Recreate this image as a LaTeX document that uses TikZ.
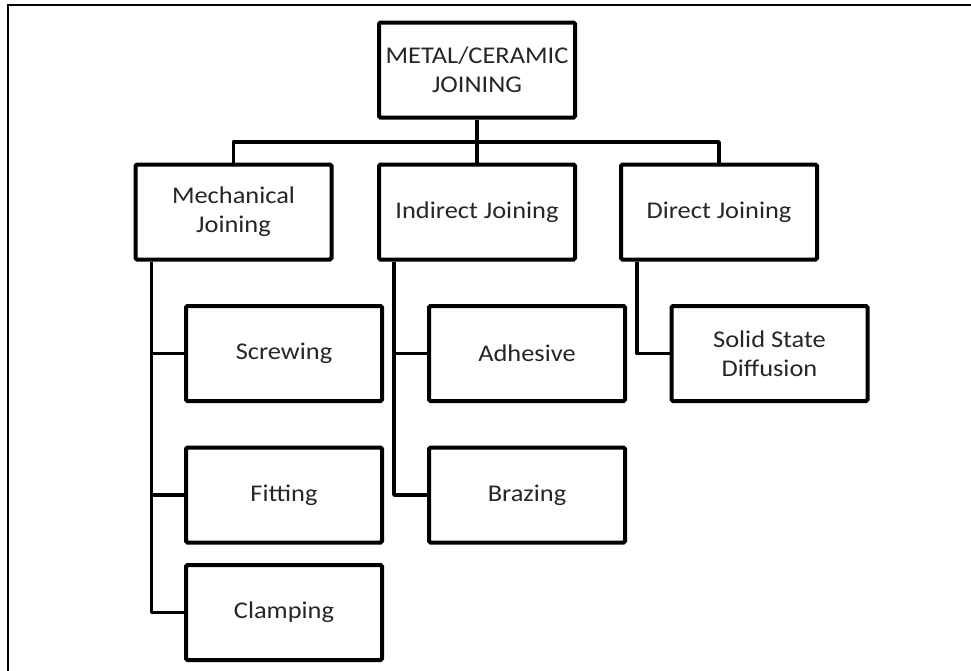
\documentclass[tikz,border=0pt]{standalone}
\usepackage{fontspec}
\setmainfont{Carlito}[FakeStretch=1.1]
\usetikzlibrary{calc}
\begin{document}
\begin{tikzpicture}[x=1pt,y=-1pt,
  box/.style={draw=black, line width=4pt, rounded corners=1.5pt, fill=white,
    minimum width=196pt, minimum height=95pt, inner sep=0pt, align=center,
    text=black!85, font=\fontsize{24}{29}\selectfont},
  conn/.style={draw=black, line width=3.8pt, line join=round},
  frame/.style={draw=black, line width=2pt}]
\useasboundingbox (0,0) rectangle (971,670);
\draw[frame] (8,672) -- (8,5) -- (973,5);
% nodes
\node[box] (root) at (477,70) {METAL/CERAMIC\\JOINING};
\node[box] (mech) at (233.5,212) {Mechanical\\Joining};
\node[box] (ind) at (477,212) {Indirect Joining};
\node[box] (dir) at (719,212) {Direct Joining};
\node[box] (screw) at (284,353.5) {Screwing};
\node[box] (adh) at (527,353.5) {Adhesive};
\node[box] (solid) at (769.5,353.5) {Solid State\\Diffusion};
\node[box] (fit) at (284,495) {Fitting};
\node[box] (braz) at (527,495) {Brazing};
\node[box] (clamp) at (284,612.5) {Clamping};
% bus
\coordinate (bus) at (477,142);
\draw[conn] (root.south) -- (bus);
\draw[conn] (mech.north) |- (bus) -| (dir.north);
\draw[conn] (bus) -- (ind.north);
% trunks
\coordinate (mt) at ($(mech.south west)+(18,0)$);
\coordinate (it) at ($(ind.south west)+(17,0)$);
\coordinate (dt) at ($(dir.south west)+(18,0)$);
\draw[conn] (mt) |- (clamp.west);
\draw[conn] (screw.west) -- (screw.west -| mt);
\draw[conn] (fit.west) -- (fit.west -| mt);
\draw[conn] (it) |- (braz.west);
\draw[conn] (adh.west) -- (adh.west -| it);
\draw[conn] (dt) |- (solid.west);
\end{tikzpicture}
\end{document}
